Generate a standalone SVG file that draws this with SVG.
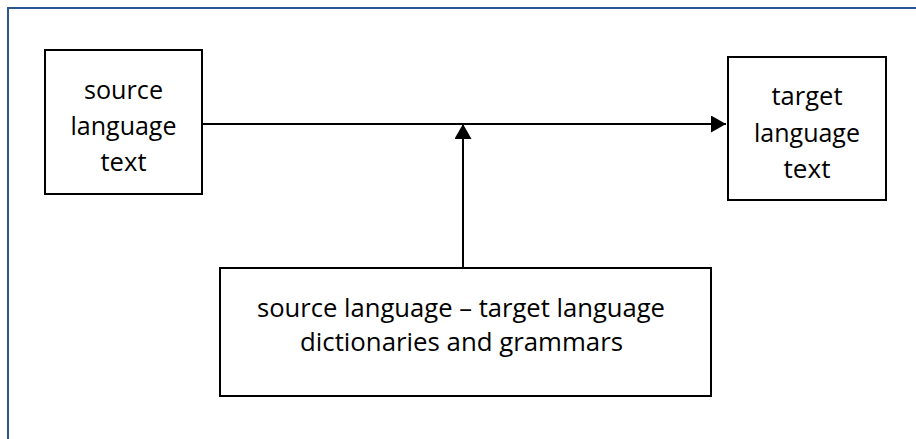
<svg xmlns="http://www.w3.org/2000/svg" width="916" height="439" viewBox="0 0 916 439">
  <style>
    .box { fill: #ffffff; stroke: #000000; stroke-width: 2; }
    .lbl { font-family: "Open Sans", "Liberation Sans", sans-serif; font-size: 26px; fill: #000000; text-anchor: middle; }
    .lbl.wide { font-size: 25px; }
    .wire { stroke: #000000; stroke-width: 2; fill: none; }
    .frame { fill: none; stroke: #2c5592; stroke-width: 2; }
  </style>
  <defs>
    <marker id="head" markerUnits="userSpaceOnUse" markerWidth="16" markerHeight="17" viewBox="0 0 16 17" refX="15" refY="8.5" orient="auto">
      <path d="M0,0 L15,8.5 L0,17 Z" fill="#000000"/>
    </marker>
  </defs>

  <rect width="916" height="439" fill="#ffffff"/>
  <!-- outer frame, running off the right and bottom edges -->
  <rect class="frame" x="8" y="8" width="930" height="450"/>

  <g id="connectors">
    <line class="wire" x1="202" y1="124" x2="726" y2="124" marker-end="url(#head)"/>
    <line class="wire" x1="463" y1="268" x2="463" y2="124" marker-end="url(#head)"/>
  </g>

  <g id="source-text">
    <rect class="box" x="45" y="50" width="157" height="144"/>
    <text class="lbl" x="123.5" y="99" textLength="79" lengthAdjust="spacingAndGlyphs">source</text>
    <text class="lbl" x="123.5" y="135" textLength="106" lengthAdjust="spacingAndGlyphs">language</text>
    <text class="lbl" x="123.5" y="171" textLength="46" lengthAdjust="spacingAndGlyphs">text</text>
  </g>

  <g id="target-text">
    <rect class="box" x="728" y="57" width="158" height="143"/>
    <text class="lbl" x="807" y="105" textLength="71" lengthAdjust="spacingAndGlyphs">target</text>
    <text class="lbl" x="807" y="142" textLength="106" lengthAdjust="spacingAndGlyphs">language</text>
    <text class="lbl" x="807" y="178" textLength="47" lengthAdjust="spacingAndGlyphs">text</text>
  </g>

  <g id="resources">
    <rect class="box" x="220" y="268" width="491" height="128"/>
    <text class="lbl wide" x="461" y="317" textLength="408" lengthAdjust="spacingAndGlyphs">source language – target language</text>
    <text class="lbl wide" x="461.5" y="351" textLength="323" lengthAdjust="spacingAndGlyphs">dictionaries and grammars</text>
  </g>
</svg>
